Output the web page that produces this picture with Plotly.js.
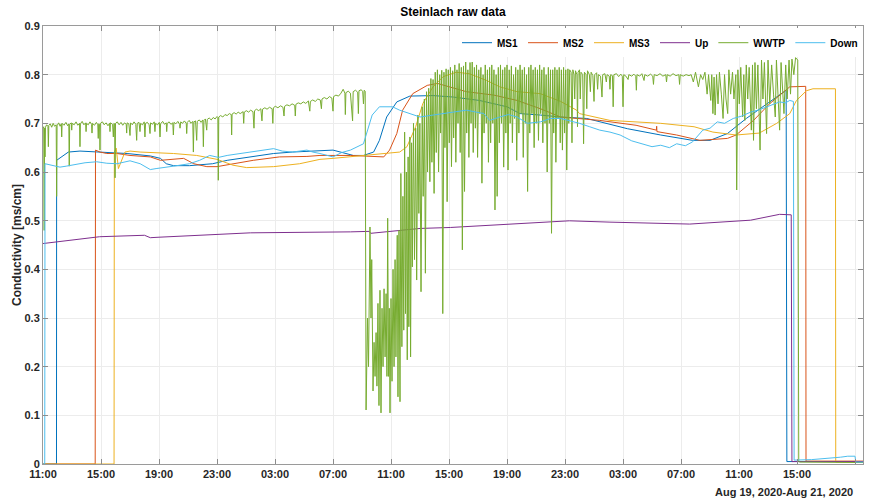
<!DOCTYPE html>
<html>
<head>
<meta charset="utf-8">
<script src="https://cdn.plot.ly/plotly-3.0.1.min.js"></script>
<style>html,body{margin:0;padding:0;background:#fff}#chart{width:869px;height:499px}</style>
</head>
<body>
<div id="chart"></div>
<script>
// Time in hours after 2020-08-19 11:00, conductivity in ms/cm
const ms1T = [0, 0.93, 0.94, 1.4, 1.75, 2.55, 4.4, 5.8, 7.4, 8.1, 8.5, 9.0, 10.1, 11.7, 12.7, 14.5, 15.9, 17.2, 19.1, 20.0, 21.4, 22.1, 22.8, 23.2, 23.7, 24.4, 25.3, 26.9, 28.3, 30.1, 32.0, 32.9, 34.3, 35.7, 37.5, 40.3, 42.6, 44.8, 46.0, 47.2, 48.5, 49.9, 51.25, 51.3, 56.55];
const ms1V = [0, 0, 0.624, 0.634, 0.641, 0.643, 0.641, 0.638, 0.633, 0.628, 0.617, 0.613, 0.613, 0.617, 0.624, 0.631, 0.638, 0.641, 0.643, 0.645, 0.634, 0.634, 0.641, 0.665, 0.713, 0.744, 0.756, 0.757, 0.754, 0.747, 0.734, 0.72, 0.717, 0.713, 0.71, 0.689, 0.676, 0.665, 0.665, 0.679, 0.71, 0.74, 0.768, 0.005, 0.005];

const ms2T = [0, 3.6, 3.62, 3.93, 4.4, 5.1, 6.0, 7.4, 8.1, 9.7, 10.4, 11.3, 12.0, 13.1, 14.5, 16.3, 18.2, 19.1, 21.2, 23.5, 23.9, 24.4, 24.8, 25.5, 26.5, 27.2, 28.1, 29.2, 31.1, 32.7, 34.3, 35.7, 38.4, 40.9, 42.3, 42.32, 42.34, 43.7, 45.3, 47.2, 47.8, 49.0, 50.1, 51.1, 51.5, 52.6, 52.62, 56.55];
const ms2V = [0, 0, 0.645, 0.641, 0.638, 0.638, 0.634, 0.631, 0.624, 0.628, 0.617, 0.611, 0.611, 0.617, 0.624, 0.631, 0.632, 0.634, 0.634, 0.631, 0.645, 0.679, 0.727, 0.761, 0.778, 0.782, 0.775, 0.765, 0.758, 0.747, 0.73, 0.713, 0.706, 0.696, 0.686, 0.694, 0.683, 0.676, 0.665, 0.669, 0.676, 0.706, 0.74, 0.765, 0.775, 0.776, 0.006, 0.006];

const ms3T = [0, 4.9, 4.92, 5.05, 5.2, 5.4, 5.65, 6.0, 6.7, 9.0, 10.6, 12.0, 13.1, 14.05, 15.9, 17.7, 19.1, 20.0, 22.3, 24.6, 25.1, 25.7, 26.2, 26.9, 27.6, 28.5, 29.4, 30.6, 31.5, 32.7, 34.3, 35.7, 36.8, 37.0, 39.1, 42.6, 44.9, 46.2, 47.8, 49.4, 50.6, 51.5, 51.96, 52.65, 53.1, 54.65, 54.67, 56.55];
const ms3V = [0, 0, 0.641, 0.649, 0.607, 0.624, 0.641, 0.643, 0.641, 0.638, 0.634, 0.626, 0.614, 0.609, 0.611, 0.617, 0.626, 0.628, 0.634, 0.641, 0.652, 0.693, 0.741, 0.775, 0.796, 0.805, 0.802, 0.788, 0.775, 0.765, 0.761, 0.745, 0.727, 0.72, 0.706, 0.70, 0.693, 0.682, 0.676, 0.68, 0.70, 0.72, 0.747, 0.767, 0.771, 0.771, 0.004, 0.004];

const upT = [0, 3.9, 7.0, 7.4, 8.0, 14.3, 21.2, 22.5, 22.6, 26.0, 28.1, 31.5, 34.3, 36.3, 39.1, 41.2, 44.6, 48.8, 50.8, 51.6, 51.65, 56.55];
const upV = [0.453, 0.467, 0.470, 0.465, 0.466, 0.475, 0.477, 0.478, 0.474, 0.484, 0.486, 0.492, 0.4975, 0.4997, 0.497, 0.496, 0.493, 0.501, 0.513, 0.512, 0.005, 0.005];

// WWTP as [hours, value] pairs, in four stretches
const wwtpCalm1 = [[0.00,0.690],[0.05,0.693],[0.08,0.480],[0.11,0.690],[0.14,0.631],[0.17,0.692],[0.25,0.697],[0.34,0.694],[0.37,0.652],[0.40,0.696],[0.50,0.699],[0.60,0.692],[0.70,0.700],[0.80,0.694],[0.91,0.697],[0.94,0.550],[0.97,0.695],[1.08,0.701],[1.18,0.694],[1.26,0.699],[1.29,0.672],[1.32,0.700],[1.45,0.696],[1.58,0.702],[1.70,0.695],[1.78,0.699],[1.81,0.612],[1.84,0.698],[1.95,0.701],[1.98,0.686],[2.01,0.700],[2.15,0.697],[2.28,0.703],[2.40,0.696],[2.52,0.700],[2.55,0.652],[2.58,0.699],[2.70,0.704],[2.82,0.697],[2.94,0.701],[2.97,0.683],[3.00,0.700],[3.12,0.697],[3.24,0.703],[3.35,0.698],[3.38,0.680],[3.41,0.700],[3.55,0.696],[3.68,0.702],[3.78,0.697],[3.81,0.669],[3.84,0.699],[3.90,0.698],[3.93,0.645],[3.96,0.700],[4.10,0.703],[4.22,0.697],[4.35,0.701],[4.48,0.695],[4.59,0.700],[4.62,0.683],[4.65,0.701],[4.80,0.698],[4.85,0.672],[4.89,0.700],[4.94,0.699],[4.97,0.588],[5.00,0.700],[5.12,0.703],[5.25,0.697],[5.38,0.702],[5.50,0.696],[5.62,0.701],[5.74,0.698],[5.77,0.680],[5.80,0.701],[5.92,0.699],[6.00,0.675],[6.04,0.701],[6.16,0.697],[6.28,0.703],[6.40,0.698],[6.46,0.665],[6.50,0.700],[6.62,0.702],[6.69,0.683],[6.73,0.700],[6.86,0.697],[6.98,0.703],[7.03,0.672],[7.07,0.700],[7.20,0.702],[7.32,0.697],[7.38,0.679],[7.42,0.701],[7.55,0.698],[7.67,0.703],[7.72,0.683],[7.76,0.700],[7.90,0.697],[8.02,0.702],[8.07,0.672],[8.11,0.699],[8.25,0.704],[8.38,0.698],[8.50,0.701],[8.53,0.683],[8.57,0.700],[8.70,0.703],[8.82,0.698],[8.95,0.701],[8.99,0.676],[9.03,0.702],[9.16,0.699],[9.30,0.704],[9.42,0.698],[9.45,0.690],[9.50,0.703],[9.62,0.700],[9.75,0.705],[9.88,0.700],[9.91,0.679],[9.95,0.702],[10.08,0.706],[10.20,0.700],[10.33,0.704],[10.37,0.641],[10.41,0.703],[10.52,0.705],[10.60,0.665],[10.64,0.704],[10.78,0.707],[10.90,0.702],[11.02,0.707],[11.06,0.652],[11.10,0.706],[11.20,0.709],[11.29,0.686],[11.33,0.708],[11.46,0.711],[11.60,0.707],[11.74,0.712],[11.87,0.709],[12.00,0.714],[12.06,0.712],[12.09,0.583],[12.12,0.713],[12.25,0.716],[12.40,0.713],[12.55,0.718],[12.70,0.716],[12.85,0.720],[12.98,0.718],[13.01,0.676],[13.04,0.719],[13.18,0.722],[13.32,0.719],[13.46,0.723],[13.60,0.720],[13.80,0.724],[13.84,0.700],[13.88,0.723],[14.02,0.726],[14.18,0.723],[14.32,0.727],[14.48,0.724],[14.55,0.690],[14.59,0.726],[14.72,0.729],[14.88,0.726],[15.02,0.730],[15.10,0.705],[15.14,0.729],[15.30,0.732],[15.45,0.729],[15.62,0.733],[15.80,0.730],[15.85,0.700],[15.89,0.732],[16.02,0.735],[16.20,0.732],[16.38,0.736],[16.55,0.733],[16.62,0.715],[16.66,0.735],[16.82,0.738],[17.00,0.736],[17.18,0.740],[17.36,0.737],[17.40,0.715],[17.44,0.739],[17.60,0.742],[17.78,0.740],[17.95,0.744],[18.12,0.741],[18.30,0.746],[18.40,0.725],[18.44,0.745],[18.60,0.748],[18.78,0.745],[18.95,0.750],[19.12,0.748],[19.20,0.730],[19.24,0.750],[19.40,0.753],[19.58,0.750],[19.75,0.755],[19.92,0.752],[20.00,0.725],[20.04,0.755],[20.20,0.758],[20.38,0.756],[20.55,0.762],[20.70,0.770],[20.82,0.762],[20.85,0.718],[20.89,0.763],[21.05,0.766],[21.20,0.762],[21.35,0.705],[21.39,0.765],[21.55,0.768],[21.70,0.764],[21.75,0.720],[21.79,0.767],[21.95,0.769],[22.05,0.765],[22.10,0.740],[22.15,0.768],[22.22,0.766]];

const wwtpBurst1 = [[22.28,0.111],[22.38,0.30],[22.45,0.20],[22.55,0.487],[22.62,0.30],[22.67,0.42],[22.76,0.15],[22.83,0.25],[22.90,0.18],[22.97,0.27],[23.03,0.16],[23.10,0.33],[23.17,0.12],[23.24,0.357],[23.31,0.105],[23.38,0.32],[23.45,0.20],[23.52,0.36],[23.59,0.22],[23.66,0.35],[23.72,0.18],[23.77,0.505],[23.83,0.18],[23.88,0.32],[23.93,0.105],[24.00,0.34],[24.07,0.17],[24.14,0.40],[24.21,0.20],[24.28,0.42],[24.34,0.22],[24.43,0.47],[24.48,0.138],[24.55,0.48],[24.62,0.128],[24.68,0.597],[24.75,0.241],[24.82,0.55],[24.88,0.275],[24.94,0.682],[25.00,0.309],[25.06,0.60],[25.12,0.214],[25.18,0.631],[25.23,0.282],[25.30,0.672],[25.35,0.22],[25.42,0.66],[25.47,0.405],[25.55,0.70],[25.62,0.42],[25.70,0.69],[25.77,0.378],[25.85,0.717],[25.92,0.515],[25.99,0.70],[26.07,0.354],[26.15,0.734],[26.22,0.55],[26.30,0.75],[26.37,0.392],[26.45,0.765],[26.52,0.60],[26.60,0.772],[26.68,0.58],[26.75,0.792],[26.82,0.62],[26.90,0.79],[26.97,0.556],[27.05,0.805],[27.12,0.64],[27.20,0.81],[27.28,0.60],[27.36,0.80],[27.42,0.68],[27.50,0.809],[27.57,0.309],[27.65,0.805],[27.72,0.65],[27.80,0.812],[27.87,0.539],[27.95,0.81],[28.02,0.66],[28.10,0.815],[28.17,0.611],[28.25,0.808],[28.32,0.67],[28.40,0.82],[28.47,0.62],[28.55,0.81],[28.62,0.70],[28.70,0.823],[28.77,0.64],[28.85,0.815],[28.92,0.44],[29.00,0.818],[29.07,0.56],[29.15,0.826],[29.22,0.68],[29.30,0.81],[29.37,0.63],[29.45,0.825],[29.52,0.70],[29.60,0.826],[29.67,0.64],[29.75,0.815],[29.82,0.69],[29.90,0.82],[29.97,0.63],[30.05,0.81],[30.12,0.72],[30.20,0.815],[30.27,0.577],[30.35,0.80],[30.42,0.68],[30.50,0.82],[30.57,0.70],[30.65,0.81],[30.72,0.62],[30.80,0.815],[30.87,0.66],[30.95,0.82],[31.02,0.70],[31.10,0.81],[31.17,0.522],[31.25,0.80],[31.32,0.55],[31.40,0.815],[31.47,0.66],[31.55,0.82],[31.62,0.70],[31.70,0.81],[31.77,0.61],[31.85,0.815],[31.92,0.68],[32.00,0.82],[32.07,0.604],[32.15,0.81],[32.22,0.70],[32.30,0.818],[32.37,0.66],[32.45,0.80],[32.52,0.71],[32.60,0.815],[32.67,0.624],[32.75,0.81],[32.82,0.68],[32.90,0.82],[32.97,0.72],[33.05,0.81],[33.12,0.63],[33.20,0.815],[33.27,0.70],[33.35,0.80],[33.42,0.56],[33.50,0.815],[33.57,0.68],[33.65,0.82],[33.72,0.72],[33.80,0.81],[33.87,0.65],[33.95,0.815],[34.02,0.70],[34.10,0.81],[34.17,0.665],[34.25,0.82],[34.32,0.72],[34.40,0.81],[34.47,0.66],[34.55,0.815],[34.62,0.70],[34.70,0.80],[34.77,0.60],[34.85,0.815],[34.92,0.70],[35.00,0.81],[35.07,0.474],[35.15,0.81],[35.22,0.68],[35.30,0.815],[35.37,0.62],[35.45,0.81],[35.52,0.71],[35.60,0.815],[35.67,0.66],[35.75,0.81],[35.82,0.645],[35.90,0.815],[35.97,0.68],[36.05,0.81],[36.12,0.604]];

const wwtpCalm2 = [[36.20,0.812],[36.26,0.70],[36.32,0.81],[36.42,0.805],[36.48,0.66],[36.54,0.81],[36.62,0.80],[36.67,0.75],[36.72,0.808],[36.82,0.80],[36.86,0.693],[36.90,0.805],[37.00,0.81],[37.05,0.75],[37.10,0.805],[37.22,0.80],[37.28,0.658],[37.34,0.805],[37.45,0.80],[37.50,0.73],[37.55,0.808],[37.68,0.80],[37.75,0.765],[37.80,0.805],[37.92,0.798],[38.00,0.745],[38.05,0.80],[38.18,0.804],[38.25,0.77],[38.30,0.80],[38.45,0.797],[38.55,0.754],[38.60,0.80],[38.75,0.802],[38.85,0.785],[38.90,0.80],[39.05,0.797],[39.10,0.77],[39.15,0.80],[39.27,0.798],[39.32,0.734],[39.37,0.80],[39.55,0.802],[39.70,0.796],[39.85,0.801],[39.95,0.797],[40.00,0.734],[40.05,0.80],[40.20,0.797],[40.35,0.79],[40.40,0.80],[40.60,0.797],[40.75,0.801],[40.88,0.797],[40.92,0.768],[40.96,0.80],[41.15,0.797],[41.30,0.802],[41.45,0.788],[41.50,0.80],[41.70,0.797],[41.90,0.801],[42.05,0.797],[42.10,0.78],[42.15,0.80],[42.35,0.798],[42.55,0.802],[42.75,0.797],[42.95,0.80],[43.00,0.785],[43.05,0.80],[43.25,0.797],[43.45,0.802],[43.65,0.798],[43.85,0.80],[43.90,0.78],[43.95,0.80],[44.15,0.797],[44.35,0.80],[44.55,0.798]];

const wwtpBurst2 = [[44.70,0.80],[44.85,0.785],[45.00,0.805],[45.20,0.775],[45.35,0.80],[45.50,0.79],[45.65,0.805],[45.80,0.76],[45.90,0.80],[46.05,0.747],[46.12,0.80],[46.20,0.72],[46.28,0.795],[46.35,0.717],[46.45,0.80],[46.55,0.74],[46.65,0.805],[46.78,0.76],[46.90,0.71],[47.00,0.80],[47.10,0.75],[47.22,0.72],[47.30,0.81],[47.42,0.76],[47.55,0.805],[47.65,0.75],[47.78,0.80],[47.84,0.563],[47.92,0.81],[48.02,0.74],[48.12,0.815],[48.25,0.713],[48.33,0.80],[48.40,0.706],[48.50,0.82],[48.60,0.75],[48.70,0.815],[48.85,0.686],[48.93,0.82],[49.00,0.665],[49.10,0.825],[49.20,0.73],[49.30,0.82],[49.45,0.645],[49.55,0.83],[49.65,0.75],[49.75,0.825],[49.90,0.679],[50.00,0.83],[50.12,0.74],[50.25,0.82],[50.38,0.76],[50.50,0.713],[50.58,0.83],[50.68,0.76],[50.80,0.686],[50.90,0.825],[51.02,0.75],[51.10,0.72],[51.22,0.82],[51.32,0.75],[51.45,0.83],[51.55,0.76],[51.65,0.832],[51.78,0.80],[51.90,0.835],[52.05,0.83],[52.12,0.005],[52.20,0.004],[56.55,0.003]];

const downT = [0, 0.12, 0.14, 0.6, 1.17, 1.6, 2.1, 2.9, 3.7, 4.4, 5.1, 6.0, 6.7, 7.4, 7.8, 8.4, 9.0, 10.1, 10.8, 11.5, 12.1, 12.7, 13.6, 14.3, 15.0, 15.9, 16.5, 17.2, 18.2, 18.6, 19.1, 20.0, 20.6, 21.2, 22.1, 22.3, 22.7, 23.2, 24.1, 24.6, 25.3, 26.0, 26.9, 28.1, 29.2, 30.4, 30.8, 31.5, 32.1, 32.7, 33.4, 34.3, 35.0, 35.7, 37.0, 37.7, 38.4, 39.1, 39.8, 40.6, 41.4, 42.0, 42.6, 43.2, 43.7, 44.3, 44.8, 45.5, 46.0, 46.5, 47.0, 47.6, 48.2, 48.8, 49.4, 49.9, 50.4, 50.8, 51.2, 51.5, 51.75, 51.8, 53.0, 54.0, 55.0, 55.5, 56.0, 56.05, 56.55];
const downV = [0, 0, 0.617, 0.614, 0.61, 0.612, 0.615, 0.619, 0.621, 0.618, 0.617, 0.623, 0.617, 0.605, 0.607, 0.609, 0.612, 0.617, 0.624, 0.634, 0.630, 0.634, 0.638, 0.641, 0.645, 0.648, 0.643, 0.641, 0.645, 0.641, 0.638, 0.631, 0.640, 0.645, 0.658, 0.679, 0.717, 0.734, 0.734, 0.727, 0.72, 0.713, 0.717, 0.723, 0.727, 0.72, 0.706, 0.713, 0.718, 0.713, 0.70, 0.703, 0.710, 0.71, 0.70, 0.693, 0.686, 0.682, 0.676, 0.664, 0.658, 0.652, 0.655, 0.650, 0.658, 0.654, 0.662, 0.686, 0.690, 0.703, 0.700, 0.71, 0.715, 0.723, 0.728, 0.734, 0.740, 0.744, 0.742, 0.747, 0.745, 0.008, 0.009, 0.011, 0.014, 0.016, 0.016, 0.004, 0.004];

const wwtpPairs = wwtpCalm1.concat(wwtpBurst1, wwtpCalm2, wwtpBurst2);
const wwtpT = wwtpPairs.map(p => p[0]);
const wwtpV = wwtpPairs.map(p => p[1]);

const seriesNames = ['MS1', 'MS2', 'MS3', 'Up', 'WWTP', 'Down'];
const seriesColors = ['#0072BD', '#D95319', '#EDB120', '#7E2F8E', '#77AC30', '#4DBEEE'];
const seriesT = [ms1T, ms2T, ms3T, upT, wwtpT, downT];
const seriesV = [ms1V, ms2V, ms3V, upV, wwtpV, downV];

const T0 = Date.UTC(2020, 7, 19, 11, 0, 0);
function toDate(h) {
  return new Date(T0 + h * 3600000).toISOString().replace('T', ' ').slice(0, 19);
}

const FONT = 'Liberation Sans, Arial, Helvetica, sans-serif';
const TXT = '#262626';

const traces = seriesNames.map((name, i) => ({
  type: 'scatter',
  mode: 'lines',
  name: name,
  x: seriesT[i].map(toDate),
  y: seriesV[i],
  line: { color: seriesColors[i], width: 1 },
  hoverinfo: 'skip'
}));

const layout = {
  width: 869,
  height: 499,
  margin: { l: 43, r: 6, t: 26, b: 35 },
  paper_bgcolor: '#ffffff',
  plot_bgcolor: '#ffffff',
  font: { family: FONT, color: TXT, size: 11 },
  showlegend: true,
  title: {
    text: 'Steinlach raw data',
    font: { family: FONT, size: 12, color: '#000', weight: 'bold' },
    x: 0.5, xref: 'paper', xanchor: 'center',
    y: 1 - 12 / 499, yref: 'container', yanchor: 'middle'
  },
  xaxis: {
    type: 'date',
    range: ['2020-08-19 11:00:00', '2020-08-21 19:33:00'],
    tick0: '2020-08-19 11:00:00',
    dtick: 4 * 3600000,
    tickformat: '%H:%M',
    tickfont: { family: FONT, size: 11, color: TXT, weight: 'bold' },
    ticks: 'inside', ticklen: 5, tickcolor: '#8c8c8c',
    showline: true, linecolor: '#9a9a9a', linewidth: 1, mirror: 'ticks',
    showgrid: true, gridcolor: '#ececec', gridwidth: 1,
    zeroline: false
  },
  yaxis: {
    range: [0, 0.9],
    dtick: 0.1,
    tick0: 0,
    tickfont: { family: FONT, size: 11, color: TXT, weight: 'bold' },
    ticks: 'inside', ticklen: 5, tickcolor: '#8c8c8c',
    showline: true, linecolor: '#9a9a9a', linewidth: 1, mirror: 'ticks',
    showgrid: true, gridcolor: '#ececec', gridwidth: 1,
    zeroline: false,
    title: { text: 'Conductivity [ms/cm]', font: { family: FONT, size: 12, color: TXT, weight: 'bold' }, standoff: 0 }
  },
  legend: {
    orientation: 'h',
    x: 1, xanchor: 'right', xref: 'paper',
    y: 0.995, yanchor: 'top', yref: 'paper',
    bgcolor: 'rgba(255,255,255,1)',
    borderwidth: 0,
    font: { family: FONT, size: 10, color: '#000', weight: 'bold' },
    itemwidth: 30,
    tracegroupgap: 0
  },
  annotations: [{
    text: 'Aug 19, 2020-Aug 21, 2020',
    x: '2020-08-21 19:00:00', xref: 'x', xanchor: 'right',
    y: (464 - 492) / 438, yref: 'paper', yanchor: 'middle',
    showarrow: false,
    font: { family: FONT, size: 11, color: TXT, weight: 'bold' }
  }]
};

Plotly.newPlot('chart', traces, layout, { displayModeBar: false, staticPlot: true });
</script>
</body>
</html>
